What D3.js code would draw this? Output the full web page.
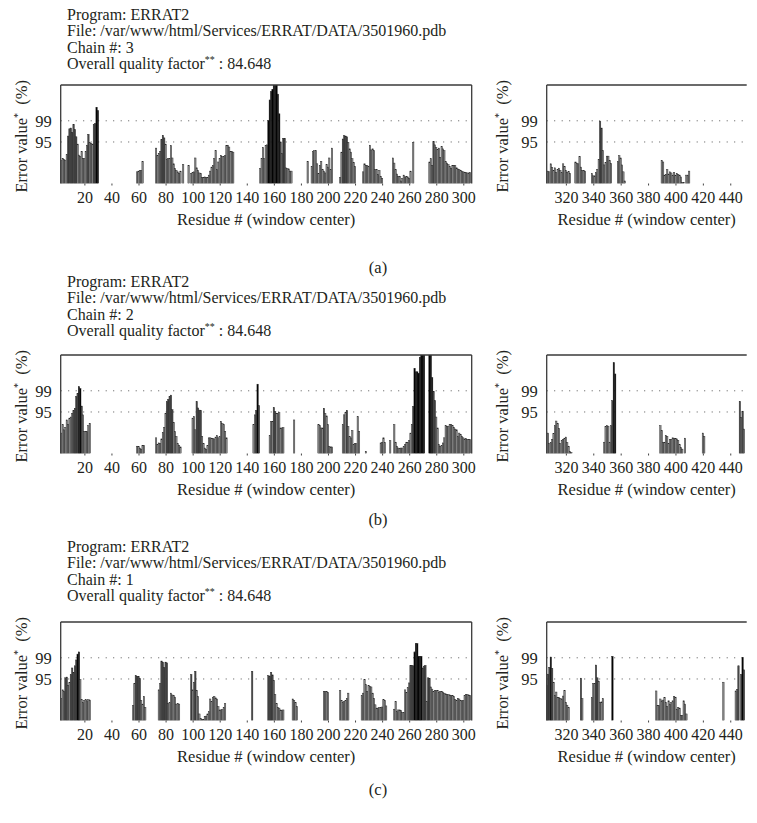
<!DOCTYPE html>
<html><head><meta charset="utf-8">
<script src="https://cdn.jsdelivr.net/npm/d3@7"></script>
<style>
body{margin:0;background:#fff}
text{font-family:"Liberation Serif","DejaVu Serif",serif;fill:#231f20}
</style>
</head><body>
<svg id="chart" width="757" height="823"></svg>
<script>
// ---- Data: runs of consecutive residues [startResidue, [error values...]] ----
const aLeft = [
  [3, [6.3,6.9,6.6,6.4,7.9,13.0,15.0,15.2,14.0,16.2,14.8,12.8,10.8,7.8,7.4,8.8,6.8,6.9,8.8,10.5,13.5,11.2,11.0,10.8,16.2,16.4,20.9,20.0]],
  [59, [3.2,3.4,3.5,3.6,6.0]],
  [73, [9.7,7.7,8.3,8.8,12.0,13.2,12.5,10.8,6.6,6.9,6.8,10.4,7.0,5.4,4.1,3.6,3.2,2.7,3.4]],
  [93, [5.2]],
  [97, [5.0]],
  [99, [2.8,3.0,3.2,7.0,4.3,3.6,2.9,2.7,1.6,1.6,1.8,1.7,1.6,2.3,3.4,4.5,5.0,6.8,9.0,3.8,5.9,6.8,7.7,7.4,7.4,7.6,10.4,10.5,10.0,8.8,8.8,8.6]],
  [150, [4.1,6.8,9.9,6.8,10.4,10.6,17.3,22.9,25.2,25.7,27.5,27.5,27.5,24.5,19.1,11.4,8.3,12.4,12.4,4.3,4.1,4.0,3.4,3.4]],
  [185, [6.1]],
  [188, [4.7,8.8,9.0,9.0,5.4,2.7,5.0,6.1,3.8,3.4,2.9,5.2,4.5,7.0,3.8,9.7]],
  [209, [1.6,8.6,12.2,13.1,13.0,12.8,11.3,9.5,8.6,6.8,5.8,4.7]],
  [226, [3.2,5.4,5.0,4.9,4.7,10.5,9.2,9.5,9.0,3.8,3.8,2.5,3.6,2.0,1.4]],
  [248, [7.0,5.6,3.8,2.6,2.0,2.0,0.7,1.4,2.3,1.8,1.9,1.8,1.3,3.4]],
  [263, [11.3]],
  [275, [5.9,6.8,5.0,11.5,10.6,9.9,9.3,9.7,7.2,10.1,9.5,9.0,6.0,5.6,5.2,4.7,4.2,5.0,5.0,4.9,4.3,4.0,3.8,3.6,3.4,3.2,3.1,3.0,2.9,2.9,3.0]]
];
const aRight = [
  [307, [3.4,3.2,5.4,4.4,3.6,4.3,3.0,3.9,4.2,3.6,3.0,5.4,4.7,3.6,3.0,3.3,2.8]],
  [327, [5.9,5.6,5.4,7.4,4.5,3.6,3.6,3.4]],
  [339, [2.7,2.1,2.1,3.0,3.9,6.6,17.0,15.2,9.0,5.1,5.7,7.5,7.5,6.3,5.5]],
  [358, [6.0,7.6,7.0,5.1,3.2,0.7]],
  [390, [6.3,5.9,2.3,2.5,3.8,2.6,3.2,2.9,2.3,3.0,2.3,2.7,2.5,2.3,1.8,0.3,0.3]],
  [408, [2.3,2.3,3.4]]
];
const bLeft = [
  [3, [5.6,7.9,6.5,7.2,9.2,7.9,9.7,10.0,11.0,11.8,12.4,15.6,16.5,18.3,17.8,13.0,10.6,6.1,6.1,6.0,7.6,8.3]],
  [59, [2.0,1.9,1.5,1.2,2.2,2.2]],
  [73, [4.3,2.4,2.9,2.7,4.0,5.8,7.2,11.0,14.2,14.8,15.6,16.0,12.0,8.5,6.0,4.7,2.7,2.2,1.8]],
  [100, [9.7,10.1,6.5,14.2,12.5,11.9,11.8,4.7,2.7,1.5,1.1,2.2,4.3,4.3,4.2,4.1,4.0,4.5,4.9,4.3,4.6,8.8,8.2,7.9,6.1,4.3]],
  [145, [7.9,10.6,11.8,19.0,13.1]],
  [157, [4.9,8.8,8.8,12.6,11.5,10.9,11.0,11.2,7.0,7.0,7.1]],
  [175, [9.2]],
  [193, [7.9,7.6,7.0,7.0,12.4,11.0,10.3,7.9,2.0,1.8,1.8]],
  [211, [7.9,10.6,11.2,11.8,7.4,4.7,4.3,6.3,2.4,2.7,2.7,10.1,6.1]],
  [228, [0.6]],
  [239, [2.9,3.1,4.3,3.0]],
  [246, [3.5]],
  [249, [7.9,3.1,2.0,1.5,1.3,1.5,1.5,2.0,2.4,3.1,3.1,3.5,5.6,8.0,12.9,23.3,22.4,22.4,22.0,26.4,27.5,27.5,27.5]],
  [275, [27.5,27.5,20.8,17.0,14.5,10.0,7.0,2.4,2.0,2.2,2.9,4.3,7.6,7.4,7.5,7.9,7.9,7.6,7.2,6.7,6.5,4.7,5.6,5.2,4.7,4.3,4.0,4.1,3.9,3.8,3.8]]
];
const bRight = [
  [307, [5.6,2.7,3.0,3.9,5.5,7.6,8.9,8.3,6.9,2.7,3.6,3.9,4.2,4.5,3.0,2.0,0.5,0.3]],
  [348, [3.1,7.4,7.6,7.5,3.1,7.6,14.5,24.9,21.8]],
  [389, [7.6,6.3,3.1,3.1,4.9,4.7,2.7,3.9,3.9,4.3,4.2,4.1,4.0,3.6,2.4,1.6,1.2]],
  [407, [4.2]],
  [420, [5.6,4.7]],
  [447, [14.3,9.8,11.6,6.7]]
];
const cLeft = [
  [3, [6.1,8.4,8.0,11.7,11.9,9.6,10.5,12.6,14.4,13.2,15.0,16.6,18.2,18.8,11.2,5.7,4.9,5.5,5.7,5.4,5.7,5.6]],
  [56, [4.1,10.1,12.3,12.1,12.0,11.5,5.5,4.5,6.6,3.6]],
  [75, [8.4,10.1,16.3,16.0,14.5,16.0,15.8,4.6,4.9,7.5,7.0,6.8,6.4,4.5,4.6,4.5]],
  [99, [12.6,8.4,10.5,13.5,8.3,6.6,1.8,0.6,0.3,0.3,1.1,1.2,1.8,2.4,5.9,5.2,6.4,6.6,6.2,5.9,3.8,2.9,2.9,3.0,3.6,4.6]],
  [144, [13.5]],
  [156, [12.3,12.1,13.2,12.5,11.0,7.1,4.6,3.6,3.4,2.9,2.7,2.9]],
  [174, [5.9,5.5,4.9,3.8]],
  [197, [8.0,8.0,7.9,7.7]],
  [209, [8.2,5.5,4.9,5.2,5.5,6.1,7.5]],
  [225, [6.8,7.5,11.2,9.8,8.0,9.6,9.4,9.2,7.5,6.1,4.3,3.4,3.4,3.6,3.6,3.7,5.7,5.5,4.0]],
  [249, [3.1,5.2,2.4,2.9,2.9,2.7,2.2,2.2]],
  [257, [8.4,7.7,9.0,10.3,15.1,15.1,15.0,18.8,21.1,21.1,17.6,17.6,17.6,14.4,14.9,15.1,5.2,11.7,11.5,9.2,8.6,8.0,8.2,8.2,8.3,7.7,8.0,8.0,7.8,7.5,7.3,7.1,7.1,7.0,6.8,6.8,6.6,5.7,5.5,6.1,5.9,5.5,5.4,5.5,6.8,7.1,7.1,7.0,6.9]]
];
const cRight = [
  [306, [9.6,12.7,14.6,17.4,14.3,10.5,6.9,7.8,6.3,6.3,6.1,5.9,6.7,8.3,5.0,4.2,3.6]],
  [331, [11.6,6.0]],
  [339, [6.3,10.1,10.2,15.2,11.7,10.8,5.0,5.1,6.0]],
  [354, [17.6]],
  [386, [8.1,4.1,4.1,5.9,5.4,5.6,6.3,5.0,3.8,5.4,4.5,4.9,5.4,6.6,6.4,3.1,3.6,3.4,1.4,1.4,5.4,4.5,1.8]],
  [435, [10.5]],
  [444, [8.1,8.5,15.0]],
  [448, [12.6,17.3,13.9]]
];
const chains = ["3", "2", "1"];
const captions = ["(a)", "(b)", "(c)"];
const qualityFactor = "84.648";
const fileName = "/var/www/html/Services/ERRAT/DATA/3501960.pdb";
const limit95 = 11.38, limit99 = 17.19, yMax = 27;
const leftTicks = [20,40,60,80,100,120,140,160,180,200,220,240,260,280,300];
const rightTicks = [320,340,360,380,400,420,440];
const yTickValues = [limit95, limit99];
const yTickLabels = ["95", "99"];

// ---- Layout ----
const svg = d3.select("#chart");
const panels = [
  {dy: 0, tdy: 0, left: aLeft, right: aRight, capY: 273},
  {dy: 270, tdy: 267, left: bLeft, right: bRight, capY: 525},
  {dy: 537, tdy: 532, left: cLeft, right: cRight, capY: 795}
];
const L = {domain: [2.5, 306.2], range: [60.7, 471.7], ticks: leftTicks, rightBorder: true, ylabX: 27};
const R = {domain: [306, 452], range: [546.7, 746.7], ticks: rightTicks, rightBorder: false, ylabX: 508};
const TOP = 85, BOT = 183.5;

function flatten(runs) {
  const out = [];
  runs.forEach(([s, vals]) => vals.forEach((v, i) => out.push({r: s + i, v})));
  return out;
}
function fillFor(v) {
  if (v > limit99) return "#000";
  if (v > limit95) return "#4a4a4a";
  return "#8e8e8e";
}
let clipId = 0;
function drawPlot(g, runs, cfg) {
  const x = d3.scaleLinear().domain(cfg.domain).range(cfg.range);
  const y = d3.scaleLinear().domain([0, yMax]).range([BOT, TOP]);
  const id = "clip" + (clipId++);
  g.append("clipPath").attr("id", id).append("rect")
    .attr("x", cfg.range[0]).attr("y", TOP).attr("width", cfg.range[1] - cfg.range[0]).attr("height", BOT - TOP);
  g.selectAll(".grid").data(yTickValues).join("line")
    .attr("x1", cfg.range[0]).attr("x2", cfg.range[1])
    .attr("y1", d => y(d)).attr("y2", d => y(d))
    .attr("stroke", "#555").attr("stroke-width", 1).attr("stroke-dasharray", "1,6.5");
  const data = flatten(runs);
  g.append("g").attr("clip-path", `url(#${id})`)
    .selectAll("rect").data(data).join("rect")
    .attr("x", d => x(d.r - 0.5))
    .attr("width", d => x(d.r + 0.5) - x(d.r - 0.5))
    .attr("y", d => y(Math.min(d.v, yMax + 1)))
    .attr("height", d => y(0) - y(Math.min(d.v, yMax + 1)))
    .attr("fill", d => fillFor(d.v))
    .attr("stroke", "#222").attr("stroke-width", 0.45);
  const fr = g.append("g").attr("stroke", "#3a3a3a").attr("stroke-width", 1.3).attr("fill", "none");
  fr.append("line").attr("x1", cfg.range[0]).attr("x2", cfg.range[1]).attr("y1", TOP).attr("y2", TOP);
  fr.append("line").attr("x1", cfg.range[0]).attr("x2", cfg.range[0]).attr("y1", TOP).attr("y2", BOT);
  if (cfg.rightBorder) fr.append("line").attr("x1", cfg.range[1]).attr("x2", cfg.range[1]).attr("y1", TOP).attr("y2", BOT);
  const xa = g.append("g").attr("transform", `translate(0,${BOT})`)
    .call(d3.axisBottom(x).tickValues(cfg.ticks).tickSize(2).tickPadding(6));
  xa.select(".domain").remove();
  xa.selectAll("line").attr("stroke", "#444");
  xa.selectAll("text").style("font-family", '"Liberation Serif",serif').style("font-size", "16px").attr("fill", "#231f20");
  const ya = g.append("g").attr("transform", `translate(${cfg.range[0]},0)`)
    .call(d3.axisLeft(y).tickValues(yTickValues).tickFormat((d, i) => yTickLabels[i]).tickSize(0).tickPadding(9));
  ya.select(".domain").remove();
  ya.selectAll("text").style("font-family", '"Liberation Serif",serif').style("font-size", "16.5px").attr("fill", "#231f20");
  const yl = g.append("text").attr("transform", `translate(${cfg.ylabX},${(TOP + BOT) / 2 + 2}) rotate(-90)`)
    .attr("text-anchor", "middle").style("font-size", "16.5px");
  yl.append("tspan").text("Error value");
  yl.append("tspan").attr("dy", -6).style("font-size", "10px").text("*");
  yl.append("tspan").attr("dy", 6).text("\u00a0\u00a0(%)");
  g.append("text").attr("x", (cfg.range[0] + cfg.range[1]) / 2).attr("y", 225)
    .attr("text-anchor", "middle").style("font-size", "16.5px").text("Residue # (window center)");
}

panels.forEach((p, i) => {
  const g = svg.append("g").attr("transform", `translate(0,${p.dy})`);
  const t = svg.append("g").attr("transform", `translate(0,${p.tdy})`);
  const tx = 67, base = 20, step = 16.4;
  const fs = "16px";
  t.append("text").attr("x", tx).attr("y", base).style("font-size", fs).text("Program: ERRAT2");
  t.append("text").attr("x", tx).attr("y", base + step).style("font-size", fs).text("File: " + fileName);
  t.append("text").attr("x", tx).attr("y", base + 2 * step).style("font-size", fs).text("Chain #: " + chains[i]);
  const q = t.append("text").attr("x", tx).attr("y", base + 3 * step).style("font-size", fs);
  q.append("tspan").text("Overall quality factor");
  q.append("tspan").attr("dy", -6).style("font-size", "10px").text("**");
  q.append("tspan").attr("dy", 6).text(" : " + qualityFactor);
  drawPlot(g, p.left, L);
  drawPlot(g, p.right, R);
  svg.append("text").attr("x", 378).attr("y", p.capY).attr("text-anchor", "middle").style("font-size", "16.5px").text(captions[i]);
});
</script>
</body></html>
